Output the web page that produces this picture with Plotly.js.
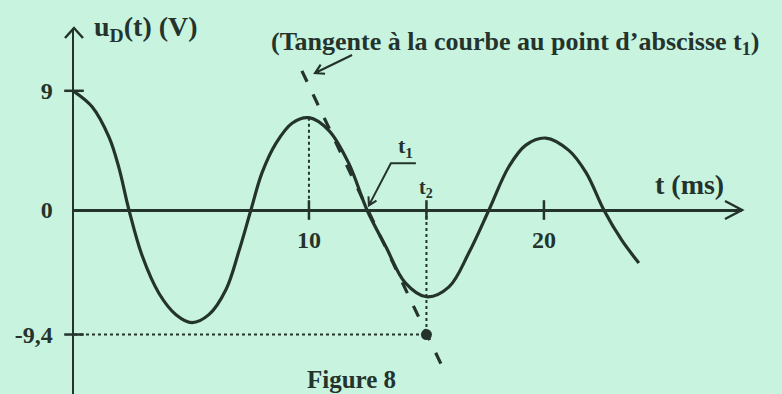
<!DOCTYPE html>
<html>
<head>
<meta charset="utf-8">
<script src="https://cdn.plot.ly/plotly-3.0.1.min.js"></script>
<style>
  html, body { margin: 0; padding: 0; background: #c8f4df; }
  #chart { width: 782px; height: 394px; }
</style>
</head>
<body>
<div id="chart"></div>
<script>
// u_D(t) (t in ms, u in V)
var tValues = [0, 0.77, 1.49, 1.91, 2.34, 2.89, 3.62, 4.34, 5.02, 5.74, 6.47, 7.02, 7.53, 8.0, 8.6, 9.28,
               10.0, 10.85, 11.7, 12.47, 13.28, 14.1, 15.0, 15.96, 16.8, 17.66, 18.5, 19.23, 20.08,
               21.06, 21.8, 22.55, 23.32, 24.04];
var uValues = [8.95, 7.8, 5.5, 3.2, 0, -3.4, -6.3, -7.9, -8.5, -7.9, -6.0, -3.1, 0, 2.8, 5.05, 6.55,
               6.97, 6.0, 3.5, 0, -2.8, -5.5, -6.55, -5.8, -3.25, 0, 3.25, 4.9, 5.43,
               4.5, 2.8, 0, -2.3, -4.0];

// key points
var tPeak = 10, uPeak = 6.97;
var t1 = 12.5, t2 = 15, uT2 = -9.4;

// tangent at t1 (ends of the dashed line)
var tangentT = [9.7, t1, t2, 15.8];
var tangentU = [10.5, 0, uT2, -12.3];

// axis ticks
var xTickVals = [10, 20];
var xTickText = ['10', '20'];
var yTickVals = [9, 0, -9.4];
var yTickText = ['9', '0', '-9,4'];

var xRange = [0, 28.43];
var yRange = [-13.89, 13.74];

var ink = '#24332c';
var bg = '#c8f4df';
var serif = 'Liberation Serif, Times New Roman, serif';

// arrow drawn in pixels around an anchor point (y up)
function pixelPath(xref, x, yref, y, path, width) {
    return {
        type: 'path', xref: xref, yref: yref,
        xsizemode: 'pixel', ysizemode: 'pixel',
        xanchor: x, yanchor: y, path: path, layer: 'above',
        line: {color: ink, width: width}
    };
}

function initChart() {
    let curve = {
        x: tValues, y: uValues,
        mode: 'lines',
        line: {color: ink, width: 3.2, shape: 'spline', smoothing: 1},
        hoverinfo: 'skip'
    };

    let peakDrop = {
        x: [tPeak, tPeak], y: [uPeak, 0],
        mode: 'lines',
        line: {color: ink, width: 2, dash: 'dot'},
        hoverinfo: 'skip'
    };

    let t2Drop = {
        x: [t2, t2], y: [0, uT2],
        mode: 'lines',
        line: {color: ink, width: 2, dash: 'dot'},
        hoverinfo: 'skip'
    };

    let levelLine = {
        x: [0, t2], y: [uT2, uT2],
        mode: 'lines',
        line: {color: ink, width: 2, dash: 'dot'},
        hoverinfo: 'skip'
    };

    let tangent = {
        x: tangentT, y: tangentU,
        mode: 'lines',
        line: {color: ink, width: 3.2, dash: '12px,14px'},
        hoverinfo: 'skip'
    };

    let point = {
        x: [t2], y: [uT2],
        mode: 'markers',
        marker: {color: ink, size: 11},
        cliponaxis: false,
        hoverinfo: 'skip'
    };

    let xTicks = {
        x: xTickVals.concat([t2]), y: [0, 0, 0],
        mode: 'markers',
        marker: {symbol: 'line-ns', size: 14, line: {color: ink, width: 2.5}},
        hoverinfo: 'skip'
    };

    let yTicks = {
        x: [0, 0], y: [yTickVals[0], yTickVals[2]],
        mode: 'markers',
        marker: {symbol: 'line-ew', size: 14, line: {color: ink, width: 2.5}},
        cliponaxis: false,
        hoverinfo: 'skip'
    };

    let data = [curve, peakDrop, t2Drop, levelLine, tangent, point, xTicks, yTicks];

    let font = function(size) {
        return {family: serif, size: size, color: ink, weight: 'bold'};
    };

    let annotations = [
        {x: 0.77, y: 13.74, xanchor: 'left', yanchor: 'middle', showarrow: false,
         text: 'u<sub>D</sub>(t) (V)', font: font(28)},
        {x: 8.3, y: 12.6, xanchor: 'left', yanchor: 'middle', showarrow: false,
         text: '(Tangente à la courbe au point d\u2019abscisse t<sub>1</sub>)', font: font(26)},
        {x: 26.2, y: 1.9, xanchor: 'center', yanchor: 'middle', showarrow: false,
         text: 't (ms)', font: font(28)},
        {x: 14.1, y: 3.55, xanchor: 'center', yanchor: 'bottom', showarrow: false,
         text: 't<sub>1</sub>', font: font(22)},
        {x: t2, y: 0.5, xanchor: 'center', yanchor: 'bottom', showarrow: false,
         text: 't<sub>2</sub>', font: font(20)},
        {x: 11.8, y: yRange[0], xanchor: 'center', yanchor: 'bottom', showarrow: false,
         text: 'Figure 8', font: font(25), borderpad: 0}
    ];

    let shapes = [
        // axis arrow heads
        pixelPath('paper', 0, 'paper', 1, 'M-9,-10 L0,0 L9,-10', 2.5),
        pixelPath('paper', 1, 'y', 0, 'M-17,9 L0,0 L-17,-9', 2.5),
        // arrow pointing at the tangent
        pixelPath('x', 10.26, 'y', 10.34, 'M37,18 L0,0 M5.6,8.3 L0,0 L10,-0.7', 2.2),
        // leader for t1
        pixelPath('x', 12.55, 'y', 0.35, 'M47,42 L22,42 L0,0 M-0.4,9 L0,0 L7.6,4.8', 2)
    ];

    let layout = {
        width: 782,
        height: 394,
        margin: {l: 74, r: 40, t: 28, b: 0},
        paper_bgcolor: bg,
        plot_bgcolor: bg,
        showlegend: false,
        hovermode: false,
        xaxis: {
            range: xRange,
            anchor: 'free',
            position: 184 / 366,
            showline: true,
            linecolor: ink,
            linewidth: 2.5,
            showgrid: false,
            zeroline: false,
            tickvals: xTickVals,
            ticktext: xTickText,
            ticks: '',
            ticklabelstandoff: 8,
            tickfont: font(24)
        },
        yaxis: {
            range: yRange,
            showline: true,
            linecolor: ink,
            linewidth: 2.5,
            showgrid: false,
            zeroline: false,
            tickvals: yTickVals,
            ticktext: yTickText,
            ticks: '',
            ticklabelstandoff: 14,
            tickfont: font(24)
        },
        annotations: annotations,
        shapes: shapes
    };

    Plotly.newPlot('chart', data, layout, {staticPlot: true, displayModeBar: false});
}

document.addEventListener('DOMContentLoaded', initChart);
</script>
</body>
</html>
